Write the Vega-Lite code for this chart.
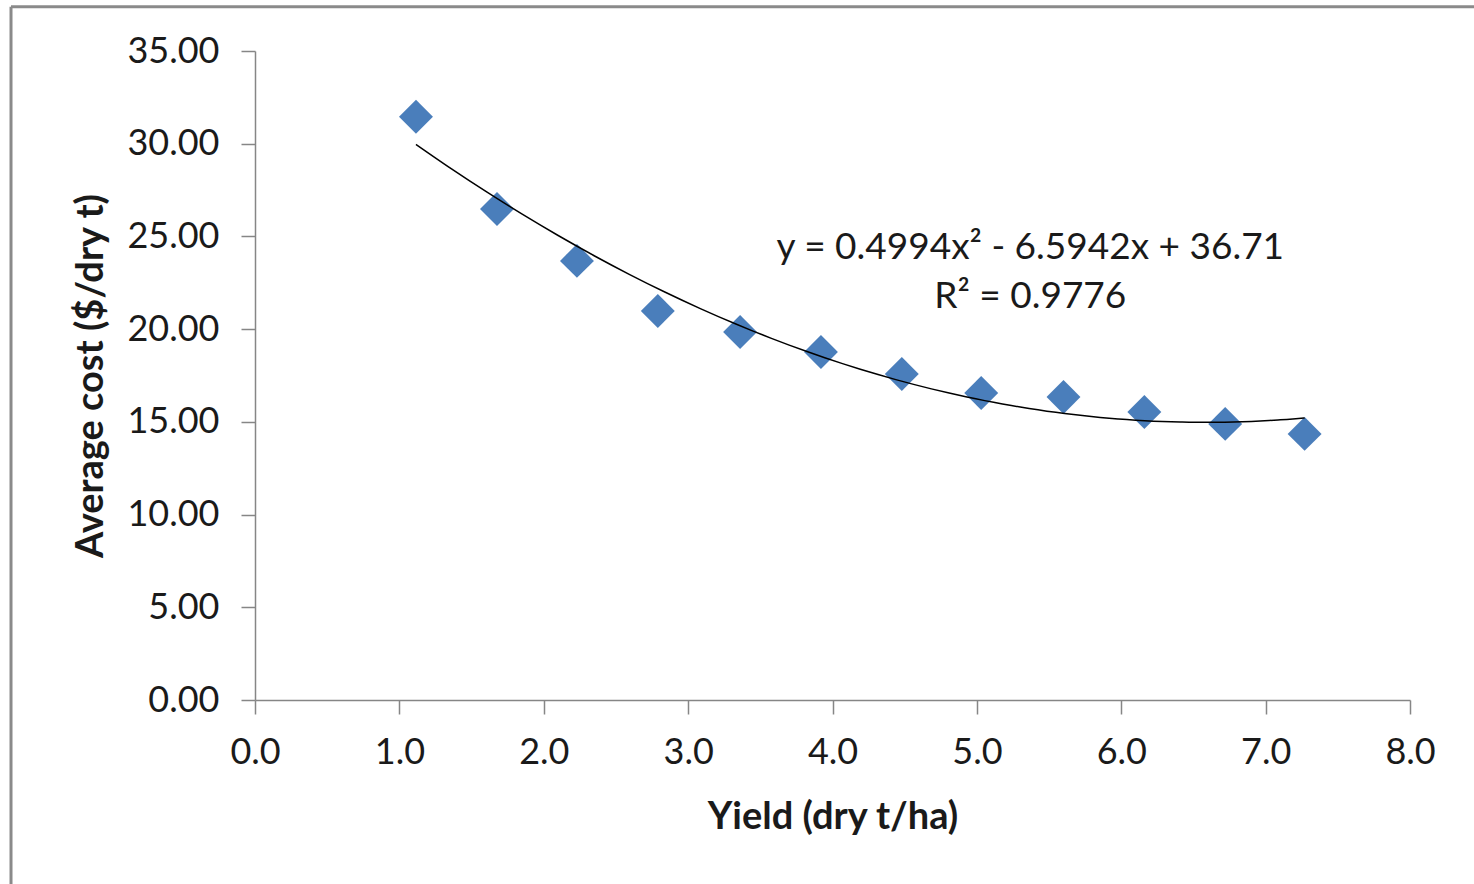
{
  "$schema": "https://vega.github.io/schema/vega-lite/v6.json",
  "width": 1155,
  "height": 649,
  "autosize": {"type": "none"},
  "padding": {"left": 255, "top": 51, "right": 64, "bottom": 184},
  "background": "white",
  "config": {
    "view": {"stroke": null},
    "font": "Lato",
    "axis": {
      "grid": false,
      "domainColor": "#868686",
      "domainWidth": 1.5,
      "tickColor": "#868686",
      "tickWidth": 1.5,
      "tickSize": 14,
      "labelFont": "Lato",
      "labelFontSize": 36,
      "labelColor": "#1a1a1a",
      "titleFont": "Lato",
      "titleFontSize": 38,
      "titleFontWeight": "bold",
      "titleColor": "#1a1a1a"
    }
  },
  "datasets": {
    "points": [
      {"yield": 1.115, "cost": 31.45},
      {"yield": 1.676, "cost": 26.48},
      {"yield": 2.23, "cost": 23.68},
      {"yield": 2.79, "cost": 20.98},
      {"yield": 3.36, "cost": 19.85},
      {"yield": 3.92, "cost": 18.77},
      {"yield": 4.48, "cost": 17.58},
      {"yield": 5.03, "cost": 16.56},
      {"yield": 5.6, "cost": 16.34},
      {"yield": 6.16, "cost": 15.53},
      {"yield": 6.72, "cost": 14.89},
      {"yield": 7.27, "cost": 14.35}
    ],
    "annotation": [
      {"label": "y = 0.4994x² - 6.5942x + 36.71\nR² = 0.9776"}
    ]
  },
  "layer": [
    {
      "data": {"name": "points"},
      "mark": {"type": "point", "shape": "diamond", "filled": true, "size": 1150, "color": "#4A7EBB", "opacity": 1},
      "encoding": {
        "x": {
          "field": "yield", "type": "quantitative",
          "scale": {"domain": [0, 8], "nice": false, "zero": true},
          "axis": {"title": "Yield (dry t/ha)", "values": [0, 1, 2, 3, 4, 5, 6, 7, 8], "format": ".1f", "labelPadding": 21, "titlePadding": 28, "labelFlush": false}
        },
        "y": {
          "field": "cost", "type": "quantitative",
          "scale": {"domain": [0, 35], "nice": false},
          "axis": {"title": "Average cost ($/dry t)", "values": [0, 5, 10, 15, 20, 25, 30, 35], "format": ".2f", "labelPadding": 22, "titlePadding": 16, "labelFlush": false}
        }
      }
    },
    {
      "data": {"name": "points"},
      "transform": [
        {"regression": "cost", "on": "yield", "method": "poly", "order": 2, "extent": [1.115, 7.27]}
      ],
      "mark": {"type": "line", "color": "#000000", "strokeWidth": 1.5, "interpolate": "monotone"},
      "encoding": {
        "x": {"field": "yield", "type": "quantitative"},
        "y": {"field": "cost", "type": "quantitative"}
      }
    },
    {
      "data": {"name": "annotation"},
      "mark": {"type": "text", "align": "center", "baseline": "middle", "lineBreak": "\n", "lineHeight": 49, "fontSize": 37, "font": "Lato", "color": "#1a1a1a"},
      "encoding": {
        "x": {"datum": 5.37},
        "y": {"datum": 24.35},
        "text": {"field": "label"}
      }
    },
    {
      "data": {"values": [{}]},
      "mark": {"type": "rule", "color": "#8a8a8a", "strokeWidth": 3, "clip": false},
      "encoding": {
        "x": {"datum": -1.69},
        "y": {"datum": -11},
        "y2": {"datum": 37.38}
      }
    },
    {
      "data": {"values": [{}]},
      "mark": {"type": "rule", "color": "#8a8a8a", "strokeWidth": 3, "clip": false},
      "encoding": {
        "y": {"datum": 37.38},
        "x": {"datum": -1.69},
        "x2": {"datum": 8.6}
      }
    }
  ]
}
